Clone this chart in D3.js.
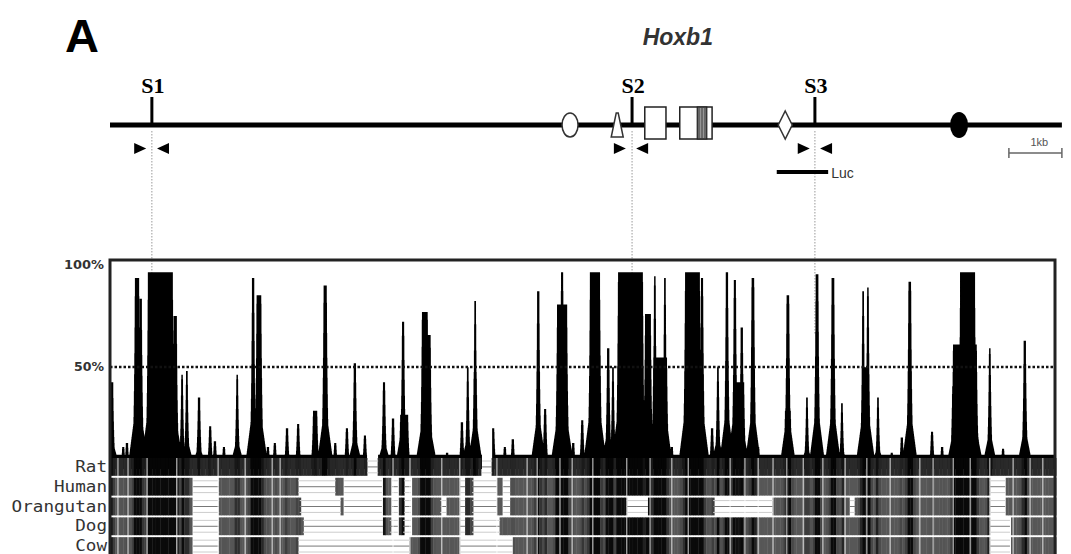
<!DOCTYPE html>
<html>
<head>
<meta charset="utf-8">
<script src="https://cdn.jsdelivr.net/npm/d3@7/dist/d3.min.js"></script>
<style>
  body { margin: 0; background: #fff; }
</style>
</head>
<body>
<div id="chart"></div>
<script>
const width = 1071;
const height = 554;

// conserved peaks: [position kb, identity %, width kb]
const peaks = [
  [0.02, 42.5, 0.08], [0.25, 10.8, 0.04], [0.32, 12.7, 0.04], [0.51, 93.6, 0.08], [0.58, 83.4, 0.04],
  [0.95, 96.4, 0.47], [1.23, 75, 0.06], [1.36, 46.2, 0.03], [1.45, 48, 0.03], [1.68, 35, 0.04],
  [1.89, 21, 0.04], [1.98, 13.6, 0.04], [2.15, 10.8, 0.04], [2.40, 46.2, 0.03], [2.70, 93.6, 0.04],
  [2.81, 85.2, 0.09], [2.98, 10.8, 0.04], [3.11, 12.7, 0.04], [3.34, 20, 0.04], [3.55, 22, 0.04],
  [3.87, 28.5, 0.08], [4.06, 90, 0.06], [4.25, 12.7, 0.04], [4.47, 20, 0.04], [4.62, 51.8, 0.04],
  [4.81, 16.4, 0.04], [5.17, 42.5, 0.04], [5.34, 24.8, 0.04], [5.53, 72.2, 0.04], [5.55, 26.6, 0.15],
  [5.94, 76.9, 0.11], [6.02, 65.7, 0.06], [6.36, 8, 0.04], [6.64, 22.9, 0.04], [6.75, 49.9, 0.03],
  [6.89, 82.4, 0.03], [6.89, 44.3, 0.06], [7.23, 20, 0.04], [7.45, 10.8, 0.04], [7.60, 14.6, 0.04],
  [8.08, 87.1, 0.04], [8.21, 29.4, 0.04], [8.53, 96.4, 0.04], [8.53, 80.6, 0.19], [8.74, 12.7, 0.04],
  [8.91, 23.9, 0.04], [9.15, 96.4, 0.19], [9.40, 59.2, 0.04], [9.49, 49.9, 0.03], [9.82, 96.4, 0.47],
  [10.15, 76, 0.11], [10.28, 94.5, 0.03], [10.38, 54.6, 0.26], [10.47, 93.6, 0.03], [10.60, 10.8, 0.04],
  [10.99, 96.4, 0.28], [11.17, 93.6, 0.04], [11.36, 20, 0.04], [11.47, 49.9, 0.03], [11.64, 96.4, 0.04],
  [11.79, 92.7, 0.04], [11.89, 42.5, 0.15], [11.92, 69.4, 0.04], [12.13, 93.6, 0.05], [12.23, 10.8, 0.04],
  [12.79, 85.2, 0.05], [12.79, 28.5, 0.11], [13.15, 35, 0.03], [13.34, 95.5, 0.05], [13.64, 93.6, 0.05],
  [13.81, 32.2, 0.03], [14.21, 87.1, 0.03], [14.25, 49.9, 0.06], [14.30, 89, 0.03], [14.49, 35, 0.03],
  [14.75, 8, 0.04], [14.94, 15.5, 0.04], [15.09, 91.8, 0.05], [15.51, 18.3, 0.04], [15.70, 10.8, 0.04],
  [15.91, 40.6, 0.04], [16.13, 61, 0.45], [16.18, 96.4, 0.28], [16.60, 59.2, 0.03], [16.60, 17.4, 0.06],
  [16.85, 9.9, 0.04], [17.26, 62.9, 0.04]
];
const noiseFloor = 7;

const species = ['Rat', 'Human', 'Orangutan', 'Dog', 'Cow'];
const ratGaps = [[4.85, 5.06], [7.02, 7.21]];
const humanGaps = [[1.57, 2.06], [3.55, 4.26], [4.42, 5.13], [5.32, 5.43], [5.55, 5.68], [6.60, 6.70], [6.83, 7.30], [7.42, 7.55], [16.60, 16.89]];
const orangGaps = [[1.57, 2.06], [3.58, 4.36], [4.42, 5.13], [5.32, 5.43], [5.55, 5.68], [6.23, 6.34], [6.60, 6.70], [6.83, 7.30], [7.42, 7.55], [9.75, 10.15], [11.38, 12.51], [13.96, 14.06], [16.60, 16.89]];
const dogGaps = [[1.57, 2.06], [3.64, 5.15], [5.28, 5.43], [5.53, 5.68], [6.60, 6.70], [6.83, 7.36], [16.60, 16.98]];
const cowGaps = [[1.57, 2.06], [3.55, 5.66], [6.60, 7.60], [16.60, 16.98]];
const hairlines = [0.15, 0.34, 0.70, 1.26, 2.04, 2.55, 3.06, 3.21, 5.34, 5.66, 6.26, 6.60, 7.30, 7.87, 8.06, 8.49, 8.72, 9.11,
  9.75, 10.19, 10.60, 10.91, 11.70, 11.98, 12.23, 12.51, 12.77, 13.08, 13.45, 13.87, 14.28, 14.72, 15.28, 15.53, 15.91,
  16.23, 16.60, 17.04, 17.36, 17.60];
const yTicks = [50, 100];

// gene map
const siteNames = ['S1', 'S2', 'S3'];
const sitePos = [0.79, 9.85, 13.30];
const primerFwd = [0.57, 9.62, 13.09];
const primerRev = [1.00, 10.04, 13.51];
const geneSpan = [0, 17.96];
const lucSpan = [12.58, 13.55];
const scaleBar = [16.96, 17.96];
const ovalOpen = 8.68;
const triangleOpen = 9.57;
const exon1 = [10.09, 10.49];
const exon2 = [10.75, 11.36];
const homeobox = [11.08, 11.26];
const diamondPos = 12.74;
const ovalFilled = 16.02;

const gapsBySpecies = { Rat: ratGaps, Human: humanGaps, Orangutan: orangGaps, Dog: dogGaps, Cow: cowGaps };

const x = d3.scaleLinear().domain([0, 17.83]).range([110, 1055]);
const y = d3.scaleLinear().domain([0, 100]).range([469, 265]);
const row = d3.scaleBand().domain(species).range([458, 555]).paddingInner(0.1);

const inGap = (p, list) => list.some(([a, b]) => p >= a && p <= b);

// needle top with a wider skirt at the foot of each peak
function identity (p) {
  if (inGap(p, ratGaps)) return 0;
  let v = noiseFloor;
  peaks.forEach(([c, h, w]) => {
    const d = Math.abs(p - c) - w / 2;
    const needle = d <= 0 ? h : h * Math.exp(-d / 0.02);
    const skirt = h * 0.3 * Math.max(0, 1 - Math.max(0, d) / 0.14);
    const val = Math.max(needle, skirt);
    if (val > v) v = val;
  });
  return v;
}

const svg = d3.select('#chart').append('svg')
  .attr('width', width)
  .attr('height', height)
  .style('font-family', 'Liberation Sans, Arial, sans-serif');

// dotted guide lines from the sites down into the plot
svg.selectAll('line.guide').data(sitePos).enter().append('line')
  .attr('x1', d => x(d)).attr('x2', d => x(d))
  .attr('y1', 131).attr('y2', 335)
  .attr('stroke', '#999').attr('stroke-width', 1)
  .attr('stroke-dasharray', '1.5,1.5');

// conservation profile
const samples = d3.range(0, 17.83, 0.004).map(p => ({ p, v: identity(p) }));
svg.append('path')
  .datum(samples)
  .attr('fill', '#000')
  .attr('d', d3.area().x(d => x(d.p)).y0(y(0)).y1(d => y(d.v)).curve(d3.curveStep));

// 50% line
svg.append('line')
  .attr('x1', x(0)).attr('x2', x(17.83))
  .attr('y1', y(50)).attr('y2', y(50))
  .attr('stroke', '#111').attr('stroke-width', 2.5)
  .attr('stroke-dasharray', '2.5,2');

// alignment rows
const bins = d3.range(0, 17.83, 0.05);
const binW = x(0.05) - x(0);
species.forEach((sp, i) => {
  const g = svg.append('g');
  const light = i === 0 ? '#2a2a2a' : '#575757';
  const dark = i === 0 ? '#050505' : '#0a0a0a';
  const col = d3.interpolateRgb(light, dark);
  g.selectAll('rect').data(bins.filter(b => !inGap(b + 0.025, gapsBySpecies[sp]))).enter().append('rect')
    .attr('x', d => x(d))
    .attr('y', row(sp))
    .attr('width', binW + 0.4)
    .attr('height', row.bandwidth())
    .attr('fill', d => col(Math.min(1, Math.max(0, (identity(d + 0.025) - noiseFloor) / 40))));
  // unaligned stretches
  const gg = g.selectAll('g.gap').data(gapsBySpecies[sp]).enter().append('g');
  gg.append('line')
    .attr('x1', d => x(d[0])).attr('x2', d => x(d[1]))
    .attr('y1', row(sp) + row.bandwidth() / 2).attr('y2', row(sp) + row.bandwidth() / 2)
    .attr('stroke', '#777').attr('stroke-width', 1);
  gg.append('line')
    .attr('x1', d => x(d[0])).attr('x2', d => x(d[1]))
    .attr('y1', row(sp) + 3).attr('y2', row(sp) + 3)
    .attr('stroke', '#ccc').attr('stroke-width', 1);
  gg.append('line')
    .attr('x1', d => x(d[0])).attr('x2', d => x(d[1]))
    .attr('y1', row(sp) + row.bandwidth() - 3).attr('y2', row(sp) + row.bandwidth() - 3)
    .attr('stroke', '#ccc').attr('stroke-width', 1);
});

svg.selectAll('line.hair').data(hairlines).enter().append('line')
  .attr('x1', d => x(d)).attr('x2', d => x(d))
  .attr('y1', row('Rat')).attr('y2', height)
  .attr('stroke', '#fff').attr('stroke-opacity', 0.7).attr('stroke-width', 1.2);

// row labels
svg.selectAll('text.sp').data(species).enter().append('text')
  .attr('x', 107)
  .attr('y', d => row(d) + row.bandwidth() / 2 + 5)
  .attr('text-anchor', 'end')
  .attr('font-family', 'DejaVu Sans Mono, monospace')
  .attr('font-size', 15)
  .attr('fill', '#333')
  .attr('textLength', d => d.length * 10.6)
  .attr('lengthAdjust', 'spacingAndGlyphs')
  .text(d => d);

// y labels
svg.selectAll('text.yt').data(yTicks).enter().append('text')
  .attr('x', 104)
  .attr('y', d => y(d) + 4)
  .attr('text-anchor', 'end')
  .attr('font-family', 'DejaVu Sans, sans-serif')
  .attr('font-weight', 'bold')
  .attr('font-size', 12)
  .attr('fill', '#333')
  .attr('textLength', d => (d + '%').length * 10)
  .attr('lengthAdjust', 'spacingAndGlyphs')
  .text(d => d + '%');

// frame
svg.append('rect')
  .attr('x', x(0)).attr('y', 260)
  .attr('width', x(17.83) - x(0)).attr('height', 320)
  .attr('fill', 'none').attr('stroke', '#222').attr('stroke-width', 3);

// ---- gene map ----
const lineY = 125;
svg.append('text')
  .attr('x', 65).attr('y', 52)
  .attr('font-weight', 'bold').attr('font-size', 47)
  .text('A');

svg.append('text')
  .attr('x', x(10.05)).attr('y', 45)
  .attr('font-weight', 'bold').attr('font-style', 'italic')
  .attr('font-size', 23).attr('fill', '#333')
  .text('Hoxb1');

svg.append('line')
  .attr('x1', x(geneSpan[0])).attr('x2', x(geneSpan[1]))
  .attr('y1', lineY).attr('y2', lineY)
  .attr('stroke', '#000').attr('stroke-width', 5);

svg.selectAll('line.site').data(sitePos).enter().append('line')
  .attr('x1', d => x(d)).attr('x2', d => x(d))
  .attr('y1', 97).attr('y2', lineY)
  .attr('stroke', '#000').attr('stroke-width', 3);

svg.selectAll('text.site').data(siteNames).enter().append('text')
  .attr('x', (d, i) => x(sitePos[i]) + 1)
  .attr('y', 93)
  .attr('text-anchor', 'middle')
  .attr('font-family', 'Liberation Serif, Times New Roman, serif')
  .attr('font-weight', 'bold').attr('font-size', 22)
  .text(d => d);

svg.append('ellipse')
  .attr('cx', x(ovalOpen)).attr('cy', lineY).attr('rx', 8).attr('ry', 12)
  .attr('fill', '#fff').attr('stroke', '#333').attr('stroke-width', 1.5);

svg.append('path')
  .attr('d', `M${x(triangleOpen) - 6},137 L${x(triangleOpen) + 6},137 L${x(triangleOpen) + 1},113 L${x(triangleOpen) - 1},113 Z`)
  .attr('fill', '#fff').attr('stroke', '#333').attr('stroke-width', 1.5);

svg.append('rect')
  .attr('x', x(exon1[0])).attr('y', 107)
  .attr('width', x(exon1[1]) - x(exon1[0])).attr('height', 32)
  .attr('fill', '#fff').attr('stroke', '#222').attr('stroke-width', 1.5);

svg.append('rect')
  .attr('x', x(exon2[0])).attr('y', 107)
  .attr('width', x(exon2[1]) - x(exon2[0])).attr('height', 32)
  .attr('fill', '#fff').attr('stroke', '#222').attr('stroke-width', 1.5);
svg.append('rect')
  .attr('x', x(homeobox[0])).attr('y', 107)
  .attr('width', x(homeobox[1]) - x(homeobox[0])).attr('height', 32)
  .attr('fill', '#666').attr('stroke', '#222').attr('stroke-width', 1.2);
svg.selectAll('line.hb').data([0.35, 0.65]).enter().append('line')
  .attr('x1', d => x(homeobox[0] + d * (homeobox[1] - homeobox[0])))
  .attr('x2', d => x(homeobox[0] + d * (homeobox[1] - homeobox[0])))
  .attr('y1', 108).attr('y2', 138)
  .attr('stroke', '#999').attr('stroke-width', 1);

svg.append('path')
  .attr('d', `M${x(diamondPos)},111 L${x(diamondPos) + 7},125 L${x(diamondPos)},139 L${x(diamondPos) - 7},125 Z`)
  .attr('fill', '#fff').attr('stroke', '#333').attr('stroke-width', 1.5);

svg.append('ellipse')
  .attr('cx', x(ovalFilled)).attr('cy', lineY).attr('rx', 9).attr('ry', 13)
  .attr('fill', '#000');

// primers
svg.selectAll('path.fwd').data(primerFwd).enter().append('path')
  .attr('d', d => `M${x(d) - 6},143 L${x(d) - 6},154 L${x(d) + 6},148.5 Z`)
  .attr('fill', '#000');
svg.selectAll('path.rev').data(primerRev).enter().append('path')
  .attr('d', d => `M${x(d) + 6},143 L${x(d) + 6},154 L${x(d) - 6},148.5 Z`)
  .attr('fill', '#000');

// Luc fragment
svg.append('line')
  .attr('x1', x(lucSpan[0])).attr('x2', x(lucSpan[1]))
  .attr('y1', 172).attr('y2', 172)
  .attr('stroke', '#000').attr('stroke-width', 4);
svg.append('text')
  .attr('x', x(lucSpan[1]) + 3).attr('y', 178)
  .attr('font-size', 14).attr('fill', '#333')
  .text('Luc');

// 1 kb scale
svg.append('line')
  .attr('x1', x(scaleBar[0])).attr('x2', x(scaleBar[1]))
  .attr('y1', 153).attr('y2', 153)
  .attr('stroke', '#666').attr('stroke-width', 1.5);
svg.selectAll('line.sb').data(scaleBar).enter().append('line')
  .attr('x1', d => x(d)).attr('x2', d => x(d))
  .attr('y1', 148).attr('y2', 158)
  .attr('stroke', '#666').attr('stroke-width', 1.5);
svg.append('text')
  .attr('x', x((scaleBar[0] + scaleBar[1]) / 2) + 4).attr('y', 146)
  .attr('text-anchor', 'middle')
  .attr('font-size', 11).attr('fill', '#555')
  .text('1kb');
</script>
</body>
</html>
